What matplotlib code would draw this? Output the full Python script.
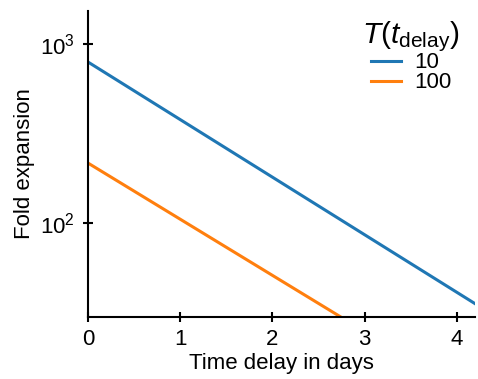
import matplotlib
matplotlib.use("Agg")
import matplotlib.pyplot as plt

plt.rcParams['font.family'] = ['Liberation Sans', 'DejaVu Sans']
plt.rcParams['mathtext.fontset'] = 'custom'
plt.rcParams['mathtext.rm'] = 'Liberation Sans'
plt.rcParams['mathtext.it'] = 'Liberation Sans:italic'

t_blue = [0.0, 4.2]
v_blue = [790, 35.5]
t_orange = [0.0, 2.74]
v_orange = [216, 30]
labels = ["10", "100"]

fig = plt.figure(figsize=(4.78, 3.79), dpi=100)
ax = fig.add_axes([0.184, 0.164, 0.810, 0.807])
ax.plot(t_blue, v_blue, color='#1f77b4', lw=2.2, label=labels[0])
ax.plot(t_orange, v_orange, color='#ff7f0e', lw=2.2, label=labels[1])
ax.set_yscale('log')
ax.set_xlim(0, 4.2)
ax.set_ylim(30, 1520)
ax.set_xticks([0, 1, 2, 3, 4])
ax.set_yticks([100, 1000])
ax.yaxis.set_minor_locator(matplotlib.ticker.NullLocator())
for s in ['top', 'right']:
    ax.spines[s].set_visible(False)
for s in ['left', 'bottom']:
    ax.spines[s].set_linewidth(1.5)
ax.tick_params(direction='inout', length=7, width=1.5, labelsize=16)
ax.tick_params(axis='x', pad=5.5)
ax.tick_params(axis='y', pad=6)
ax.set_xlabel('Time delay in days', fontsize=16, labelpad=2)
ax.set_ylabel('Fold expansion', fontsize=16, labelpad=3.5)
leg = ax.legend(title=r'$T(t_{\mathrm{delay}})$', frameon=False, fontsize=16,
                title_fontsize=21.5, loc='upper right', bbox_to_anchor=(1.0, 1.025),
                handlelength=1.35, borderpad=0.2, labelspacing=-0.05, handletextpad=0.6)
fig.savefig('out.png', dpi=100)
